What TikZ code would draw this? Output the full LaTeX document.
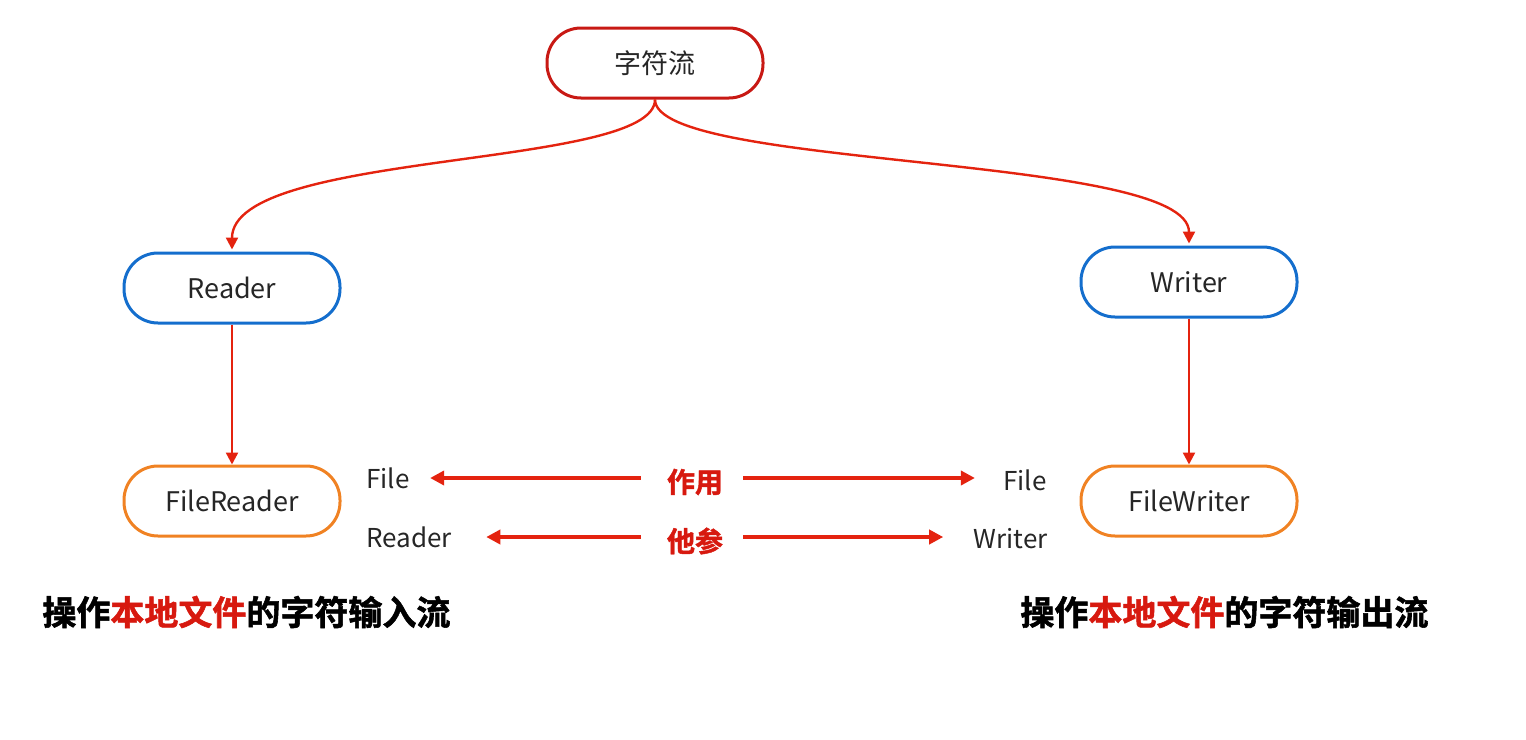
\documentclass[tikz,border=0pt]{standalone}
\usepackage{fontspec}
\setmainfont{Noto Sans CJK SC}[BoldFont=* Bold]
\newfontfamily\heavy{Noto Sans CJK SC Bold}[FakeBold=1.6]
\usetikzlibrary{arrows.meta}
\definecolor{topred}{RGB}{200,25,20}
\definecolor{arrred}{RGB}{228,35,15}
\definecolor{boxblue}{RGB}{20,110,205}
\definecolor{boxorange}{RGB}{240,130,35}
\definecolor{txtred}{RGB}{215,25,15}
\tikzset{
  pill/.style={draw, line width=1.5pt, rounded corners=17pt, minimum width=108pt, minimum height=35pt, fill=white, font=\fontsize{13.5}{16}\selectfont, text=black!85},
  conn/.style={draw=arrred, line width=1.2pt, -{Triangle[length=6pt,width=6pt]}},
  harr/.style={draw=arrred, line width=1.8pt, -{Triangle[length=7pt,width=7pt]}},
  lbl/.style={font=\fontsize{13}{15}\selectfont, text=black!85, inner sep=0pt},
  mid/.style={font=\heavy\fontsize{14}{16}\selectfont, text=txtred, inner sep=0pt},
  caption/.style={font=\heavy\fontsize{17}{19}\selectfont, inner sep=0pt, anchor=west}
}
\begin{document}
\begin{tikzpicture}[x=0.5pt,y=-0.5pt]
\useasboundingbox (0,0) rectangle (1526,739);
\node[pill, draw=topred] (top) at (655,63) {字符流};
\node[pill, draw=boxblue] (reader) at (232,288) {Reader};
\node[pill, draw=boxblue] (writer) at (1189,282) {Writer};
\node[pill, draw=boxorange] (freader) at (232,501) {FileReader};
\node[pill, draw=boxorange] (fwriter) at (1189,501) {FileWriter};

\draw[conn] (top.south) .. controls +(0,70) and +(0,-100) .. ([yshift=1pt]reader.north);
\draw[conn] (top.south) .. controls +(0,70) and +(0,-90) .. ([yshift=1pt]writer.north);
\draw[conn] (reader.south) -- (freader.north);
\draw[conn] (writer.south) -- (fwriter.north);

\node[lbl, anchor=west] (fileL) at (366,478) {File};
\node[lbl, anchor=west] (readerL) at (366,537) {Reader};
\node[lbl, anchor=east] (fileR) at (1047,480) {File};
\node[lbl, anchor=east] (writerR) at (1048,539) {Writer};
\node[mid] (zy) at (695,482) {作用};
\node[mid] (tc) at (695,541) {他参};

\coordinate (a1) at ([xshift=-13pt]zy.west |- fileL.east);
\coordinate (a2) at ([xshift=10pt]zy.east |- fileL.east);
\coordinate (b1) at ([xshift=-13pt]tc.west |- readerL.east);
\coordinate (b2) at ([xshift=10pt]tc.east |- readerL.east);
\draw[harr] (a1) -- ([xshift=10pt]fileL.east);
\draw[harr] (a2) -- ([xshift=-14pt]fileR.west |- a2);
\draw[harr] (b1) -- ([xshift=17pt]readerL.east);
\draw[harr] (b2) -- ([xshift=-15pt]writerR.west |- b2);

\node[caption] (capL) at (42,612) {操作\textcolor{txtred}{本地文件}的字符输入流};
\node[caption] (capR) at (1020,612) {操作\textcolor{txtred}{本地文件}的字符输出流};
\end{tikzpicture}
\end{document}
